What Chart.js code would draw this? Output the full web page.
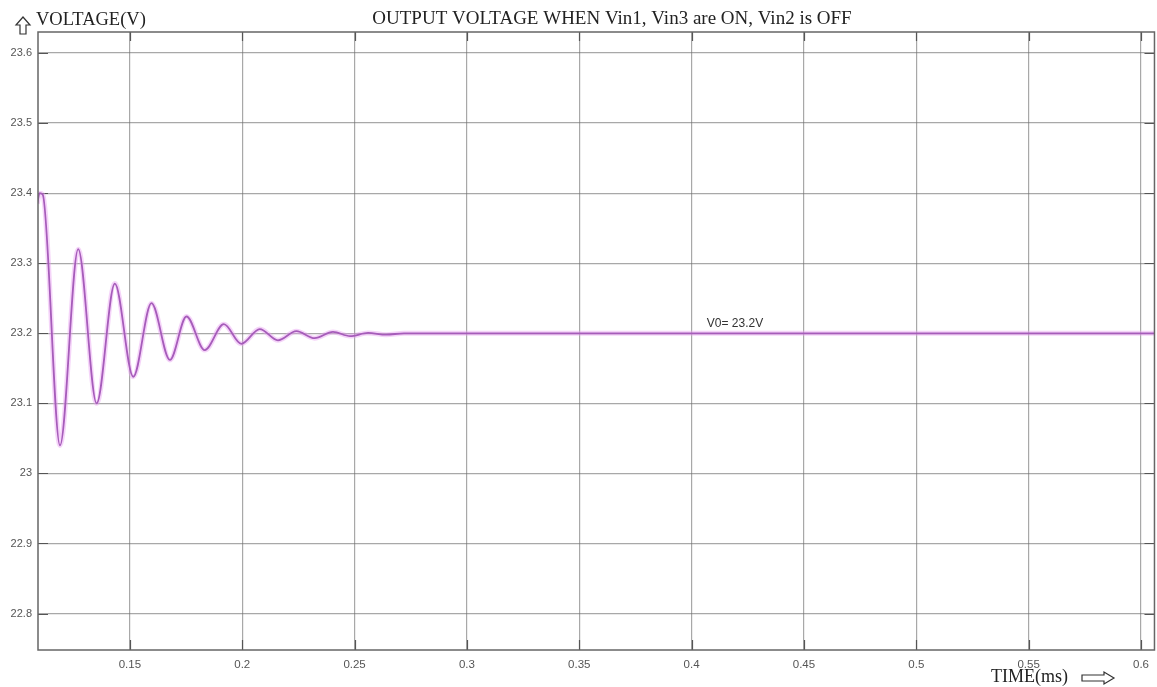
<!DOCTYPE html>
<html>
<head>
<meta charset="utf-8">
<title>Output voltage</title>
<script src="https://cdn.jsdelivr.net/npm/chart.js@4.4.1/dist/chart.umd.min.js"></script>
<style>
  html, body { margin: 0; padding: 0; background: #fff; }
  #wrap { position: relative; width: 1157px; height: 687px; }
</style>
</head>
<body>
<div id="wrap"><canvas id="vout"></canvas></div>
<script>
// Output voltage waveform (ms, V): damped ring-down settling to 23.2 V
const timeMs = [0.1088, 0.1098, 0.1112, 0.1189, 0.1270, 0.1352, 0.1433, 0.1515, 0.1596, 0.1678,
                0.1752, 0.1833, 0.1918, 0.1996, 0.2078, 0.2159, 0.2241, 0.2322, 0.2404, 0.2480,
                0.2560, 0.2640, 0.2720, 0.6060];
const voltage = [23.385, 23.400, 23.398, 23.040, 23.320, 23.100, 23.271, 23.138, 23.243, 23.162,
                 23.224, 23.176, 23.213, 23.185, 23.206, 23.190, 23.203, 23.193, 23.202, 23.196,
                 23.2005, 23.198, 23.200, 23.200];

const xTicks = [0.15, 0.2, 0.25, 0.3, 0.35, 0.4, 0.45, 0.5, 0.55, 0.6];
const yTicks = [22.8, 22.9, 23, 23.1, 23.2, 23.3, 23.4, 23.5, 23.6];

const chartTitle = 'OUTPUT VOLTAGE WHEN Vin1, Vin3 are ON, Vin2 is OFF';
const yLabel = 'VOLTAGE(V)';
const xLabel = 'TIME(ms)';
const steadyValue = 23.2;
const steadyAt = 0.405;
const steadyText = 'V0= ' + steadyValue + 'V';

const points = timeMs.map((t, i) => ({ x: t, y: voltage[i] }));

const serif = '"Liberation Serif", "Times New Roman", serif';
const sans = '"Liberation Sans", Arial, sans-serif';

// frame, inner tick marks, axis captions and the steady-state note
const decorations = {
    id: 'decorations',
    beforeDatasetsDraw(chart) {
        const { ctx, chartArea: a, scales: { x, y } } = chart;
        ctx.save();
        ctx.strokeStyle = '#555';
        ctx.lineWidth = 1.2;
        ctx.beginPath();
        xTicks.forEach(v => {
            const px = Math.round(x.getPixelForValue(v)) + 0.5;
            ctx.moveTo(px, a.bottom); ctx.lineTo(px, a.bottom - 10);
            ctx.moveTo(px, a.top); ctx.lineTo(px, a.top + 9);
        });
        yTicks.forEach(v => {
            const py = Math.round(y.getPixelForValue(v)) + 0.5;
            ctx.moveTo(a.left, py); ctx.lineTo(a.left + 10, py);
            ctx.moveTo(a.right, py); ctx.lineTo(a.right - 10, py);
        });
        ctx.stroke();
        ctx.restore();
    },
    afterDraw(chart) {
        const { ctx, chartArea: a, scales: { x, y } } = chart;
        ctx.save();
        ctx.strokeStyle = '#666';
        ctx.lineWidth = 1.5;
        ctx.strokeRect(a.left, a.top, a.right - a.left, a.bottom - a.top);

        ctx.fillStyle = '#222';
        ctx.textBaseline = 'alphabetic';
        ctx.font = '19px ' + serif;
        ctx.textAlign = 'center';
        ctx.fillText(chartTitle, 612, 24);
        ctx.textAlign = 'left';
        ctx.font = '18.5px ' + serif;
        ctx.fillText(yLabel, 36, 25);
        ctx.font = '18px ' + serif;
        ctx.fillText(xLabel, 991, 682);

        // hollow arrows next to the axis captions
        ctx.strokeStyle = '#333';
        ctx.lineWidth = 1.2;
        ctx.beginPath();
        ctx.moveTo(23, 17); ctx.lineTo(30, 25); ctx.lineTo(26, 25); ctx.lineTo(26, 34);
        ctx.lineTo(20, 34); ctx.lineTo(20, 25); ctx.lineTo(16, 25); ctx.closePath();
        ctx.stroke();
        ctx.beginPath();
        ctx.moveTo(1114, 678); ctx.lineTo(1104, 672); ctx.lineTo(1104, 675); ctx.lineTo(1082, 675);
        ctx.lineTo(1082, 681); ctx.lineTo(1104, 681); ctx.lineTo(1104, 684); ctx.closePath();
        ctx.stroke();

        ctx.fillStyle = '#333';
        ctx.font = '12px ' + sans;
        ctx.textBaseline = 'middle';
        ctx.fillText(steadyText, x.getPixelForValue(steadyAt) + 4, y.getPixelForValue(steadyValue) - 10);
        ctx.restore();
    }
};

new Chart(document.getElementById('vout'), {
    type: 'line',
    data: {
        datasets: [{
            data: points,
            borderColor: 'rgba(232, 160, 242, 0.45)',
            borderWidth: 5,
            pointRadius: 0,
            cubicInterpolationMode: 'monotone',
            order: 2
        }, {
            data: points,
            borderColor: '#a65cba',
            borderWidth: 1.8,
            pointRadius: 0,
            cubicInterpolationMode: 'monotone',
            order: 1
        }]
    },
    options: {
        responsive: true,
        maintainAspectRatio: false,
        animation: false,
        layout: { padding: { top: 32, right: 1, left: 0, bottom: 0 } },
        plugins: {
            legend: { display: false },
            tooltip: { enabled: false }
        },
        scales: {
            x: {
                type: 'linear',
                min: 0.10911,
                max: 0.6060,
                afterBuildTicks: s => { s.ticks = xTicks.map(v => ({ value: v })); },
                afterFit: s => { s.height = 37; },
                ticks: {
                    color: '#555',
                    font: { family: sans, size: 11.5 },
                    padding: 8,
                    maxRotation: 0,
                    callback: v => String(v)
                },
                grid: { color: 'rgba(110,110,110,0.6)', lineWidth: 1.2, drawTicks: false },
                border: { display: false }
            },
            y: {
                min: 22.748,
                max: 23.630,
                afterBuildTicks: s => { s.ticks = yTicks.map(v => ({ value: v })); },
                afterFit: s => { s.width = 38; },
                ticks: {
                    color: '#555',
                    font: { family: sans, size: 11 },
                    padding: 6,
                    callback: v => String(v)
                },
                grid: { color: 'rgba(110,110,110,0.6)', lineWidth: 1.2, drawTicks: false },
                border: { display: false }
            }
        }
    },
    plugins: [decorations]
});
</script>
</body>
</html>
